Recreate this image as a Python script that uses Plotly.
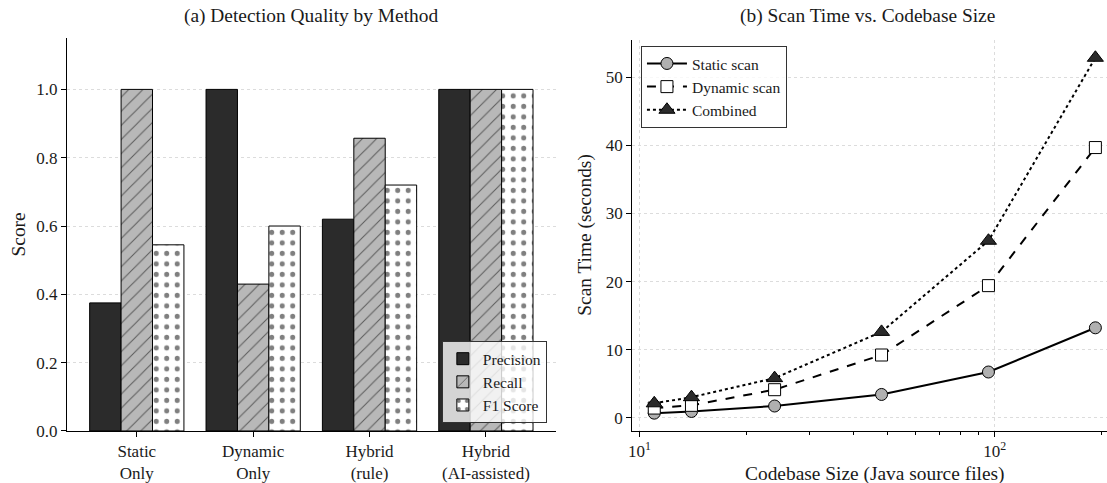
import plotly.graph_objects as go

# ---- Data: panel (a)
methods = ["Static<br>Only", "Dynamic<br>Only", "Hybrid<br>(rule)", "Hybrid<br>(AI-assisted)"]
precision = [0.375, 1.0, 0.62, 1.0]
recall = [1.0, 0.43, 0.857, 1.0]
f1 = [0.545, 0.60, 0.72, 1.0]

# ---- Data: panel (b)
codebase_size = [11, 14, 24, 48, 96, 192]
static_scan = [0.65, 0.9, 1.7, 3.4, 6.7, 13.2]
dynamic_scan = [1.4, 1.8, 4.1, 9.2, 19.4, 39.7]
combined = [2.1, 3.0, 5.8, 12.6, 26.0, 52.9]

FONT = "Liberation Serif"
TXT = "#1a1a1a"

fig = go.Figure()

fig.add_trace(go.Bar(x=methods, y=precision, name="Precision",
                     marker=dict(color="#2b2b2b", line=dict(color="black", width=1)),
                     xaxis="x", yaxis="y", legend="legend"))
fig.add_trace(go.Bar(x=methods, y=recall, name="Recall",
                     marker=dict(color="#b8b8b8", line=dict(color="black", width=1),
                                 pattern=dict(shape="/", fgcolor="black", bgcolor="#b8b8b8",
                                              size=10, solidity=0.1, fillmode="overlay")),
                     xaxis="x", yaxis="y", legend="legend"))
fig.add_trace(go.Bar(x=methods, y=f1, name="F1 Score",
                     marker=dict(color="white", line=dict(color="black", width=1),
                                 pattern=dict(shape=".", fgcolor="black", bgcolor="white",
                                              size=10.5, solidity=0.18, fillmode="overlay")),
                     xaxis="x", yaxis="y", legend="legend"))

fig.add_trace(go.Scatter(x=codebase_size, y=static_scan, name="Static scan", mode="lines+markers",
                         line=dict(color="black", width=2, dash="solid"),
                         marker=dict(symbol="circle", size=12, color="#b0b0b0",
                                     line=dict(color="black", width=1)),
                         xaxis="x2", yaxis="y2", legend="legend2"))
fig.add_trace(go.Scatter(x=codebase_size, y=dynamic_scan, name="Dynamic scan", mode="lines+markers",
                         line=dict(color="black", width=2, dash="dash"),
                         marker=dict(symbol="square", size=12, color="white",
                                     line=dict(color="black", width=1)),
                         xaxis="x2", yaxis="y2", legend="legend2"))
fig.add_trace(go.Scatter(x=codebase_size, y=combined, name="Combined", mode="lines+markers",
                         line=dict(color="black", width=2, dash="dot"),
                         marker=dict(symbol="triangle-up", size=14, color="#2b2b2b",
                                     line=dict(color="black", width=1)),
                         xaxis="x2", yaxis="y2", legend="legend2"))

axis_common = dict(showline=True, linecolor="black", linewidth=1, ticks="outside",
                   tickcolor="black", ticklen=5, tickfont=dict(family=FONT, size=17, color=TXT),
                   zeroline=False, mirror=False, automargin=False)

fig.update_layout(
    width=1107, height=483,
    margin=dict(l=0, r=0, t=0, b=0),
    paper_bgcolor="white", plot_bgcolor="white",
    font=dict(family=FONT, color=TXT),
    barmode="group", bargap=0.19, bargroupgap=0,
    xaxis=dict(domain=[0.0605, 0.502], range=[-0.6, 3.6], showgrid=False, anchor="y", **axis_common),
    yaxis=dict(domain=[0.1077, 0.921], range=[0, 1.15], tickvals=[0, 0.2, 0.4, 0.6, 0.8, 1.0],
               ticktext=["0.0", "0.2", "0.4", "0.6", "0.8", "1.0"],
               showgrid=True, gridcolor="#dcdcdc", griddash="dot", gridwidth=1, anchor="x",
               **axis_common),
    xaxis2=dict(domain=[0.571, 1.0], type="log", range=[0.979, 2.316], anchor="y2",
                tickvals=[10, 100], ticktext=["10<sup>1</sup>", "10<sup>2</sup>"],
                showgrid=True, gridcolor="#dcdcdc", griddash="dot", gridwidth=1,
                minor=dict(tickvals=[20, 30, 40, 50, 60, 70, 80, 90, 200], ticks="outside",
                           ticklen=3, tickcolor="black", showgrid=False),
                **axis_common),
    yaxis2=dict(domain=[0.1077, 0.917], range=[-1.97, 55.5], anchor="x2",
                tickvals=[0, 10, 20, 30, 40, 50],
                showgrid=True, gridcolor="#dcdcdc", griddash="dot", gridwidth=1,
                **axis_common),
    legend=dict(x=0.494, y=0.124, xanchor="right", yanchor="bottom",
                bgcolor="rgba(255,255,255,0.8)", bordercolor="#333", borderwidth=1,
                font=dict(family=FONT, size=15.5), tracegroupgap=0, itemwidth=30),
    legend2=dict(x=0.579, y=0.905, xanchor="left", yanchor="top",
                 bgcolor="rgba(255,255,255,0.8)", bordercolor="#333", borderwidth=1,
                 font=dict(family=FONT, size=15.5), tracegroupgap=0, itemwidth=40),
    annotations=[
        dict(text="(a) Detection Quality by Method", x=0.2812, y=0.966, xref="paper", yref="paper",
             showarrow=False, font=dict(family=FONT, size=19.4), xanchor="center", yanchor="middle"),
        dict(text="(b) Scan Time vs. Codebase Size", x=0.784, y=0.966, xref="paper", yref="paper",
             showarrow=False, font=dict(family=FONT, size=19.4), xanchor="center", yanchor="middle"),
        dict(text="Score", x=18 / 1107, y=0.5145, xref="paper", yref="paper", textangle=-90,
             showarrow=False, font=dict(family=FONT, size=19.4), xanchor="center", yanchor="middle"),
        dict(text="Scan Time (seconds)", x=585 / 1107, y=0.514, xref="paper", yref="paper", textangle=-90,
             showarrow=False, font=dict(family=FONT, size=19.4), xanchor="center", yanchor="middle"),
        dict(text="Codebase Size (Java source files)", x=875 / 1107, y=9 / 483, xref="paper", yref="paper",
             showarrow=False, font=dict(family=FONT, size=19.4), xanchor="center", yanchor="middle"),
    ],
)

fig.write_html("out.html",
               config={"displayModeBar": False},
               post_script="document.body.style.margin='0';document.body.style.padding='0';"
                           "document.documentElement.style.overflow='hidden';")
